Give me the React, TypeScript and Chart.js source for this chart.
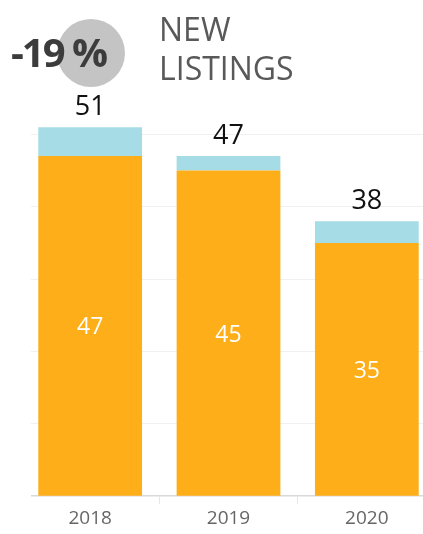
import React, { useEffect, useRef } from "react";
import { Chart, registerables } from "chart.js";
Chart.register(...registerables);

const categories = ["2018", "2019", "2020"];
const baseValues = [47, 45, 35];
const extraValues = [4, 2, 3];
const totals = [51, 47, 38];
const titleLines = ["NEW", "LISTINGS"];
const changeLabel = "-19 %";

const FONT = "'Open Sans', 'Noto Sans', sans-serif";

const labelPlugin = {
  id: "barLabels",
  afterDatasetsDraw(chart: any) {
    const ctx = chart.ctx;
    const m0 = chart.getDatasetMeta(0);
    const m1 = chart.getDatasetMeta(1);
    ctx.save();
    ctx.textAlign = "center";
    m0.data.forEach((bar: any, i: number) => {
      const { x, y, base } = bar.getProps(["x", "y", "base"], true);
      ctx.fillStyle = "#ffffff";
      ctx.font = `23px ${FONT}`;
      ctx.textBaseline = "middle";
      ctx.fillText(String(baseValues[i]), x, (y + base) / 2 + 2);
    });
    m1.data.forEach((bar: any, i: number) => {
      const { x, y } = bar.getProps(["x", "y"], true);
      ctx.fillStyle = "#111111";
      ctx.font = `27px ${FONT}`;
      ctx.textBaseline = "alphabetic";
      ctx.fillText(String(totals[i]), x, y - 12);
    });
    ctx.restore();
  },
};

export default function App() {
  const ref = useRef<HTMLCanvasElement>(null);
  useEffect(() => {
    if (!ref.current) return;
    const chart = new Chart(ref.current, {
      type: "bar",
      data: {
        labels: categories,
        datasets: [
          { data: baseValues, backgroundColor: "#FDAE19", barPercentage: 0.75, categoryPercentage: 1 },
          { data: extraValues, backgroundColor: "#A6DCE5", barPercentage: 0.75, categoryPercentage: 1 },
        ],
      },
      options: {
        animation: false,
        responsive: false,
        devicePixelRatio: 1,
        layout: { padding: { top: 62, bottom: 1, left: 0, right: 0 } },
        plugins: { legend: { display: false }, tooltip: { enabled: false } },
        scales: {
          x: {
            stacked: true,
            grid: { display: true, drawOnChartArea: false, drawTicks: true, tickLength: 8, color: "#e6e6e6" },
            border: { display: true, color: "#d9d9d9", width: 1.5 },
            ticks: { color: "#666666", font: { family: FONT, size: 19 }, padding: 3 },
          },
          y: {
            stacked: true,
            min: 0,
            max: 60,
            ticks: { display: false, stepSize: 10 },
            grid: {
              drawTicks: false,
              color: (c: any) => (c.tick && c.tick.value > 0 && c.tick.value <= 50 ? "#f0f0f0" : "rgba(0,0,0,0)"),
            },
            border: { display: false },
          },
        },
      },
      plugins: [labelPlugin],
    });
    return () => chart.destroy();
  }, []);

  return (
    <div>
      <div style={{ position: "fixed", left: 31, top: 0, width: 392, height: 534, overflow: "hidden" }}>
        <canvas ref={ref} width={415} height={534} style={{ position: "absolute", left: -10, top: 0, width: 415, height: 534 }} />
      </div>
      <div style={{ position: "fixed", left: 57, top: 19, width: 68, height: 68, borderRadius: "50%", background: "#c4c4c4" }} />
      <div style={{ position: "fixed", left: 11, top: 32, fontFamily: FONT, fontWeight: 700, fontSize: 40, lineHeight: "40px", color: "#3c3c3c", letterSpacing: -2, whiteSpace: "nowrap" }}>
        {changeLabel}
      </div>
      <div style={{ position: "fixed", left: 159, top: 9, fontFamily: FONT, fontSize: 32, lineHeight: "39px", color: "#595959", whiteSpace: "nowrap" }}>
        {titleLines.map((t) => (
          <div key={t}>{t}</div>
        ))}
      </div>
    </div>
  );
}
